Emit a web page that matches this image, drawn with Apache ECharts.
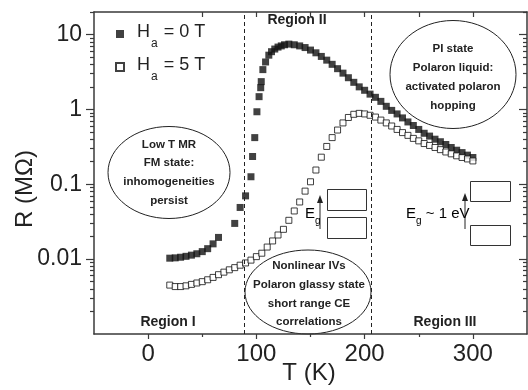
<!DOCTYPE html>
<html>
<head>
<meta charset="utf-8">
<script src="https://cdn.jsdelivr.net/npm/echarts@6/dist/echarts.min.js"></script>
<style>
  html, body { margin: 0; padding: 0; background: #fff; }
  #main { width: 528px; height: 390px; }
</style>
</head>
<body>
<div id="main"></div>
<script>
// H_a = 0 T (filled squares)
var tempZero = [20, 25, 30, 35, 40, 45, 50, 55, 60, 65,
    80, 85, 90, 95, 96.5, 98.5, 100.5, 102.5, 104, 104.5, 106, 108.5, 111.5, 114, 117, 120, 123, 126,
    130, 135, 140, 145, 150, 155, 160, 165, 170, 175, 180, 185, 190, 195, 200, 205, 210, 215,
    220, 225, 230, 235, 240, 245, 250, 255, 260, 265, 270, 275, 280, 285, 290, 295, 300];
var resZero = [0.0103, 0.0104, 0.0106, 0.0109, 0.0113, 0.0118, 0.0126, 0.0138, 0.0160, 0.0195,
    0.030, 0.049, 0.070, 0.126, 0.235, 0.42, 0.93, 1.48, 1.95, 2.35, 3.4, 4.3, 5.3, 5.9, 6.4, 6.8, 7.05, 7.3,
    7.45, 7.3, 7.05, 6.7, 6.2, 5.7, 5.1, 4.55, 4.0, 3.5, 3.05, 2.65, 2.3, 2.0, 1.8, 1.6, 1.45, 1.28,
    1.1, 0.97, 0.87, 0.77, 0.68, 0.61, 0.54, 0.48, 0.44, 0.40, 0.37, 0.34, 0.31, 0.285, 0.265, 0.245, 0.228];

// H_a = 5 T (open squares)
var tempFive = [20, 25, 30, 35, 40, 45, 50, 55, 60, 65, 70, 75, 80, 85, 90, 95, 100, 105, 110, 115,
    120, 125, 130, 135, 140, 145, 150, 155, 160, 165, 170, 175, 180, 185, 190, 195, 200, 205, 210, 215,
    220, 225, 230, 235, 240, 245, 250, 255, 260, 265, 270, 275, 280, 285, 290, 295, 300];
var resFive = [0.0045, 0.0043, 0.0043, 0.0044, 0.0046, 0.0048, 0.0050, 0.0053, 0.0057, 0.0062, 0.0067, 0.0072, 0.0077, 0.0083, 0.0089, 0.0097, 0.0108, 0.012, 0.0145, 0.0175,
    0.021, 0.025, 0.033, 0.044, 0.058, 0.081, 0.108, 0.155, 0.23, 0.32, 0.42, 0.53, 0.66, 0.78, 0.86, 0.885, 0.87, 0.835, 0.79, 0.72,
    0.66, 0.60, 0.54, 0.49, 0.45, 0.41, 0.38, 0.35, 0.33, 0.31, 0.29, 0.27, 0.255, 0.24, 0.228, 0.218, 0.205];

// region boundaries (dashed lines)
var regionBounds = [88.5, 206.5];

// ticks
var xMajorTicks = [0, 100, 200, 300];
var xMinorTicks = [50, 150, 250];
var xTopTicks = [50, 100, 150, 200, 250, 300];
var yMajorTicks = [0.01, 0.1, 1, 10];
var yMinorTicks = [0.002, 0.003, 0.004, 0.005, 0.006, 0.007, 0.008, 0.009,
    0.02, 0.03, 0.04, 0.05, 0.06, 0.07, 0.08, 0.09,
    0.2, 0.3, 0.4, 0.5, 0.6, 0.7, 0.8, 0.9,
    2, 3, 4, 5, 6, 7, 8, 9, 20];

function pairs(xs, ys) {
    var out = [];
    for (var i = 0; i < xs.length; i++) out.push([xs[i], ys[i]]);
    return out;
}

var font = "'Liberation Sans', Arial, sans-serif";
var ink = '#222';
var axisCol = '#3a3a3a';

var chart = echarts.init(document.getElementById('main'), null, {renderer: 'canvas'});

function xAx(pos, ticks, len, inside, showLine, showLabel) {
    return {
        type: 'value', position: pos, min: -50, max: 350,
        axisLine: {show: showLine, onZero: false, lineStyle: {color: axisCol, width: 1.5}},
        axisTick: {show: true, inside: inside, length: len, customValues: ticks, lineStyle: {color: axisCol, width: 1.2}},
        axisLabel: {show: showLabel, customValues: xMajorTicks, margin: 8, color: ink, fontSize: 24, fontFamily: font},
        splitLine: {show: false}
    };
}
function yAx(pos, ticks, len, inside, showLine, showLabel) {
    return {
        type: 'log', logBase: 10, position: pos, min: 0.001, max: 20,
        axisLine: {show: showLine, onZero: false, lineStyle: {color: axisCol, width: 1.5}},
        axisTick: {show: true, inside: inside, length: len, customValues: ticks, lineStyle: {color: axisCol, width: 1.2}},
        axisLabel: {
            show: showLabel, customValues: yMajorTicks, margin: 12, color: ink, fontSize: 23, fontFamily: font,
            formatter: function (v) { return String(+v.toPrecision(3)); }
        },
        splitLine: {show: false}
    };
}

var sub = {
    m: {fontSize: 18, fontFamily: font, color: ink, lineHeight: 22, verticalAlign: 'top'},
    s: {fontSize: 12, fontFamily: font, color: ink, lineHeight: 12, verticalAlign: 'top', padding: [15, 1, 0, 1]}
};

var option = {
    animation: false,
    backgroundColor: '#fff',
    grid: {left: 94, right: 1, top: 12, bottom: 56},
    legend: {
        orient: 'vertical', left: 110, top: 18, itemGap: 6,
        itemWidth: 8, itemHeight: 8,
        data: ['H0', 'H5'],
        textStyle: {padding: [0, 0, 0, 8], rich: sub},
        formatter: function (name) {
            return name === 'H0' ? '{m|H}{s|a}{m| = 0 T}' : '{m|H}{s|a}{m| = 5 T}';
        }
    },
    xAxis: [
        xAx('bottom', xMajorTicks, 5, false, true, true),
        xAx('bottom', xMinorTicks, 3, false, false, false),
        xAx('top', xTopTicks, 5, true, true, false)
    ],
    yAxis: [
        yAx('left', yMajorTicks, 8, false, true, true),
        yAx('left', yMinorTicks, 4, false, false, false),
        yAx('right', yMajorTicks, 8, true, true, false),
        yAx('right', yMinorTicks, 4, true, false, false)
    ],
    series: [
        {
            name: 'H0', type: 'scatter', symbol: 'rect', symbolSize: 7,
            itemStyle: {color: '#111'},
            data: pairs(tempZero, resZero),
            markLine: {
                silent: true, symbol: 'none', label: {show: false},
                lineStyle: {type: [4, 3], color: ink, width: 1},
                data: regionBounds.map(function (t) { return {xAxis: t}; })
            }
        },
        {
            name: 'H5', type: 'scatter', symbol: 'rect', symbolSize: 6,
            itemStyle: {color: '#fff', borderColor: '#111', borderWidth: 1},
            data: pairs(tempFive, resFive)
        }
    ],
    graphic: [
        {type: 'text', x: 25, y: 189, rotation: Math.PI / 2,
            style: {text: 'R (MΩ)', font: '24px ' + font, fill: ink, align: 'center', verticalAlign: 'middle'}},
        {type: 'text', x: 309, y: 385, style: {text: 'T (K)', font: '24px ' + font, fill: ink, align: 'center', verticalAlign: 'bottom'}},

        {type: 'text', x: 297, y: 20, style: {text: 'Region II', font: 'bold 14px ' + font, fill: ink, align: 'center', verticalAlign: 'middle'}},
        {type: 'text', x: 168, y: 322, style: {text: 'Region I', font: 'bold 14px ' + font, fill: ink, align: 'center', verticalAlign: 'middle'}},
        {type: 'text', x: 445, y: 322, style: {text: 'Region III', font: 'bold 14px ' + font, fill: ink, align: 'center', verticalAlign: 'middle'}},

        {type: 'ellipse', shape: {cx: 169, cy: 172.5, rx: 61, ry: 46}, style: {fill: 'none', stroke: ink, lineWidth: 1}},
        {type: 'text', x: 169, y: 172.5, style: {text: 'Low T MR\nFM state:\ninhomogeneities\npersist', font: 'bold 11.5px ' + font, lineHeight: 18.7, fill: ink, align: 'center', verticalAlign: 'middle'}},

        {type: 'ellipse', shape: {cx: 453, cy: 74.5, rx: 63, ry: 54}, style: {fill: 'none', stroke: ink, lineWidth: 1}},
        {type: 'text', x: 453, y: 77, style: {text: 'PI state\nPolaron liquid:\nactivated polaron\nhopping', font: 'bold 11.5px ' + font, lineHeight: 18.9, fill: ink, align: 'center', verticalAlign: 'middle'}},

        {type: 'ellipse', shape: {cx: 308, cy: 292, rx: 63, ry: 42}, style: {fill: 'none', stroke: ink, lineWidth: 1}},
        {type: 'text', x: 309, y: 294, style: {text: 'Nonlinear IVs\nPolaron glassy state\nshort range CE\ncorrelations', font: 'bold 11.5px ' + font, lineHeight: 18.8, fill: ink, align: 'center', verticalAlign: 'middle'}},

        // band diagram, region II
        {type: 'rect', shape: {x: 327.5, y: 189.5, width: 39, height: 21}, style: {fill: 'none', stroke: '#333', lineWidth: 1}},
        {type: 'rect', shape: {x: 327.5, y: 217.5, width: 39, height: 21}, style: {fill: 'none', stroke: '#333', lineWidth: 1}},
        {type: 'line', shape: {x1: 320, y1: 229, x2: 320, y2: 201}, style: {stroke: ink, lineWidth: 1}},
        {type: 'polygon', shape: {points: [[320, 195], [317, 203], [323, 203]]}, style: {fill: ink}},
        {type: 'text', x: 305, y: 222, style: {text: '{e|E}{g|g}', verticalAlign: 'bottom', rich: {
            e: {fontSize: 15, fontFamily: font, color: ink, lineHeight: 16, verticalAlign: 'top'},
            g: {fontSize: 10, fontFamily: font, color: ink, lineHeight: 10, verticalAlign: 'top', padding: [10, 0, 0, 0]}}}},

        // band diagram, region III
        {type: 'rect', shape: {x: 470.5, y: 181.5, width: 40, height: 20}, style: {fill: 'none', stroke: '#333', lineWidth: 1}},
        {type: 'rect', shape: {x: 470.5, y: 225.5, width: 40, height: 20}, style: {fill: 'none', stroke: '#333', lineWidth: 1}},
        {type: 'line', shape: {x1: 465, y1: 229, x2: 465, y2: 199}, style: {stroke: ink, lineWidth: 1}},
        {type: 'polygon', shape: {points: [[465, 193], [462, 201], [468, 201]]}, style: {fill: ink}},
        {type: 'text', x: 406, y: 222, style: {text: '{e|E}{g|g}{e| ~ 1 eV}', verticalAlign: 'bottom', rich: {
            e: {fontSize: 15, fontFamily: font, color: ink, lineHeight: 16, verticalAlign: 'top'},
            g: {fontSize: 10, fontFamily: font, color: ink, lineHeight: 10, verticalAlign: 'top', padding: [10, 0, 0, 0]}}}}
    ]
};

chart.setOption(option);
</script>
</body>
</html>
